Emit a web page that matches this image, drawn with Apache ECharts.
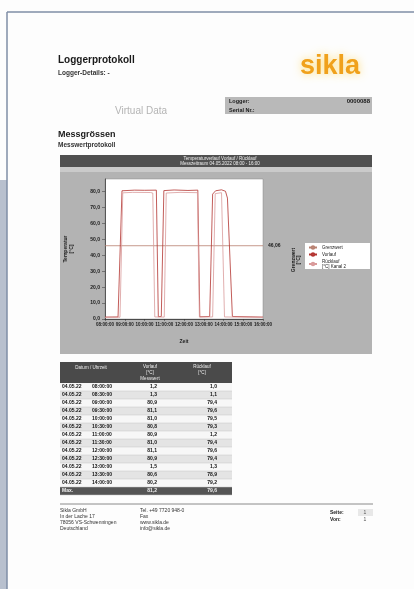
<!DOCTYPE html>
<html>
<head>
<meta charset="utf-8">
<script src="https://cdn.jsdelivr.net/npm/echarts@6/dist/echarts.min.js"></script>
<style>
html,body{margin:0;padding:0;background:#fdfdfd;}
#c{width:414px;height:589px;}
</style>
</head>
<body>
<div id="c"></div>
<script>
// ---- data ----
const seriesNames = ['Grenzwert', 'Vorlauf', 'Rücklauf\n[°C] Kanal 2'];
const grenzwert = [[0, 46.06], [8, 46.06]];
const vorlauf = [[0, 1.2], [0.66, 1.3], [0.86, 80.6], [1.5, 81.0], [2.0, 80.9], [2.6, 81.0], [2.7, 1.5], [2.85, 1.6], [2.98, 80.7], [3.5, 81.1], [4.2, 80.8], [4.7, 81.0], [4.8, 1.4], [5.3, 1.6], [5.45, 78.5], [5.6, 80.6], [5.9, 81.2], [6.1, 80.3], [6.2, 76.0], [6.45, 1.6], [8, 1.2]];
const ruecklauf = [[0, 1.0], [0.76, 1.1], [0.9, 79.3], [1.4, 79.6], [2.3, 79.5], [2.42, 79.2], [2.52, 1.3], [3.0, 1.2], [3.1, 79.2], [3.8, 79.6], [4.68, 79.4], [4.78, 1.2], [5.45, 1.3], [5.58, 78.8], [5.9, 79.4], [6.05, 1.3], [8, 1.0]];
const xTickLabels = ['08:00:00', '09:00:00', '10:00:00', '11:00:00', '12:00:00', '13:00:00', '14:00:00', '15:00:00', '16:00:00'];
const tableDates = ['04.05.22','04.05.22','04.05.22','04.05.22','04.05.22','04.05.22','04.05.22','04.05.22','04.05.22','04.05.22','04.05.22','04.05.22','04.05.22','Max.'];
const tableTimes = ['08:00:00','08:30:00','09:00:00','09:30:00','10:00:00','10:30:00','11:00:00','11:30:00','12:00:00','12:30:00','13:00:00','13:30:00','14:00:00',''];
const tableVorlauf = ['1,2','1,3','80,9','81,1','81,0','80,8','80,9','81,0','81,1','80,9','1,5','80,6','80,2','81,2'];
const tableRuecklauf = ['1,0','1,1','79,4','79,6','79,5','79,3','1,2','79,4','79,6','79,4','1,3','78,9','79,2','79,6'];

// ---- layout helpers (decoration only) ----
const F = '"Liberation Sans", Arial, sans-serif';
function txt(x, y, s, size, opt) {
  opt = opt || {};
  return {
    type: 'text', z: opt.z || 20, rotation: opt.rot || 0, x: x, y: y,
    style: {
      text: s, x: 0, y: 0,
      fill: opt.color || '#1a1a1a',
      font: (opt.bold ? 'bold ' : '') + size + 'px ' + F,
      textAlign: opt.align || 'left', textVerticalAlign: 'middle',
      textShadowColor: opt.shadow || 'transparent', textShadowBlur: opt.shadowBlur || 0
    }
  };
}
function rect(x, y, w, h, fill, z) {
  return { type: 'rect', z: z === undefined ? -10 : z, shape: { x: x, y: y, width: w, height: h }, style: { fill: fill } };
}
function line(x1, y1, x2, y2, stroke, w, z) {
  return { type: 'line', z: z === undefined ? -5 : z, shape: { x1: x1, y1: y1, x2: x2, y2: y2 }, style: { stroke: stroke, lineWidth: w } };
}

const g = [];
// page frame
g.push(rect(0, 180, 7, 409, '#b8c0ce'));
g.push(line(7, 12, 414, 12, '#7f8ea6', 1.5));
g.push(line(7, 12, 7, 589, '#7f8ea6', 1.5));
// header
g.push(txt(58, 60, 'Loggerprotokoll', 10, { bold: true }));
g.push(txt(58, 73, 'Logger-Details: -', 6.5, { bold: true, color: '#333' }));
g.push(txt(300, 67, 'sikla', 27, { bold: true, color: '#f0a11c', shadow: 'rgba(255,215,90,0.8)', shadowBlur: 8 }));
g.push(txt(115, 111, 'Virtual Data', 10, { color: '#b4b4b4' }));
g.push(rect(225, 97, 147, 17, '#b9b9b9'));
g.push(txt(229, 101, 'Logger:', 5.5, { bold: true }));
g.push(txt(229, 110, 'Serial Nr.:', 5.5, { bold: true }));
g.push(txt(370, 101, '0000088', 6, { bold: true, align: 'right' }));
g.push(txt(58, 135, 'Messgrössen', 9, { bold: true }));
g.push(txt(58, 145, 'Messwertprotokoll', 6.5, { bold: true, color: '#333' }));
// chart panel
g.push(rect(60, 155, 312, 12, '#505050'));
g.push(txt(220, 158.5, 'Temperaturverlauf Vorlauf / Rücklauf', 4.5, { color: '#eee', align: 'center' }));
g.push(txt(220, 164, 'Messzeitraum 04.05.2022 08:00 - 16:00', 4.5, { color: '#eee', align: 'center' }));
g.push(rect(60, 167, 312, 5, '#cacaca'));
g.push(rect(60, 172, 312, 182, '#b3b3b3'));
g.push(rect(305, 243, 65, 26, '#ffffff', -4));
g.push(txt(296, 260, 'Grenzwert\n[°C]', 5, { bold: true, rot: Math.PI / 2, align: 'center' }));
// table
const tx = 60, tw = 172, rowTop = 383, rowH = 8;
g.push(rect(tx, 362, tw, 21, '#4a4a4a'));
g.push(txt(91, 368, 'Datum / Uhrzeit', 4.5, { color: '#eee', align: 'center' }));
g.push(txt(150, 367, 'Vorlauf', 4.5, { color: '#eee', align: 'center' }));
g.push(txt(150, 373, '[°C]', 4.5, { color: '#eee', align: 'center' }));
g.push(txt(150, 379, 'Messwert', 4.5, { color: '#eee', align: 'center' }));
g.push(txt(202, 367, 'Rücklauf', 4.5, { color: '#eee', align: 'center' }));
g.push(txt(202, 373, '[°C]', 4.5, { color: '#eee', align: 'center' }));
tableDates.forEach(function (d, i) {
  const y = rowTop + i * rowH;
  const last = i === tableDates.length - 1;
  g.push(rect(tx, y, tw, rowH, last ? '#555555' : (i % 2 ? '#e4e4e4' : '#f7f7f7')));
  g.push(line(tx, y + rowH, tx + tw, y + rowH, '#c4c4c4', 0.5, -9));
  const col = last ? '#f0f0f0' : '#111';
  g.push(txt(62, y + 4, d, 5, { bold: true, color: col }));
  g.push(txt(92, y + 4, tableTimes[i], 5, { bold: true, color: col }));
  g.push(txt(157, y + 4, tableVorlauf[i], 5, { bold: true, color: col, align: 'right' }));
  g.push(txt(217, y + 4, tableRuecklauf[i], 5, { bold: true, color: col, align: 'right' }));
});
// footer
g.push(line(60, 504, 373, 504, '#8a8a8a', 1));
['Sikla GmbH', 'In der Lache 17', '78056 VS-Schwenningen', 'Deutschland'].forEach(function (s, i) {
  g.push(txt(60, 511 + i * 6, s, 5, { color: '#333' }));
});
['Tel. +49 7720 948-0', 'Fax', 'www.sikla.de', 'info@sikla.de'].forEach(function (s, i) {
  g.push(txt(140, 511 + i * 6, s, 5, { color: '#333' }));
});
g.push(txt(330, 513, 'Seite:', 5, { bold: true }));
g.push(txt(330, 520, 'Von:', 5, { bold: true }));
g.push(rect(358, 509, 15, 7, '#e8e8e8'));
g.push(txt(365, 513, '1', 5, { align: 'center', color: '#555' }));
g.push(txt(365, 520, '1', 5, { align: 'center', color: '#555' }));

const chart = echarts.init(document.getElementById('c'));
chart.setOption({
  backgroundColor: '#fdfdfd',
  animation: false,
  graphic: { elements: g },
  grid: { left: 105, top: 179, width: 158, height: 140, show: true, backgroundColor: '#ffffff', borderColor: '#8a8a8a', borderWidth: 0.5 },
  legend: {
    orient: 'vertical', left: 308, top: 245, itemWidth: 8, itemHeight: 3, itemGap: 2,
    padding: 0, data: seriesNames,
    textStyle: { fontSize: 4.5, color: '#222', fontFamily: F, lineHeight: 5 }
  },
  xAxis: {
    type: 'value', min: 0, max: 8, interval: 1,
    name: 'Zeit', nameLocation: 'middle', nameGap: 20,
    nameTextStyle: { fontSize: 5, fontWeight: 'bold', color: '#222', fontFamily: F },
    axisLine: { lineStyle: { color: '#333', width: 0.8 } },
    axisTick: { show: true, length: 2, lineStyle: { color: '#333', width: 0.5 } },
    axisLabel: { fontSize: 4.5, color: '#1a1a1a', fontWeight: 'bold', margin: 3, fontFamily: F,
      formatter: function (v) { return xTickLabels[Math.round(v)] || ''; } },
    splitLine: { show: false }
  },
  yAxis: {
    type: 'value', min: 0, max: 88, interval: 10,
    name: 'Temperatur\n[°C]', nameLocation: 'middle', nameGap: 30, nameRotate: 90,
    nameTextStyle: { fontSize: 5, fontWeight: 'bold', color: '#222', fontFamily: F, lineHeight: 6 },
    axisLine: { show: true, lineStyle: { color: '#333', width: 0.8 } },
    axisTick: { show: true, length: 3, lineStyle: { color: '#333', width: 0.5 } },
    axisLabel: { fontSize: 5, color: '#1a1a1a', fontWeight: 'bold', margin: 5, showMaxLabel: false, fontFamily: F,
      formatter: function (v) { return v.toFixed(1).replace('.', ','); } },
    splitLine: { show: false }
  },
  series: [
    { name: seriesNames[0], type: 'line', data: grenzwert, showSymbol: false, silent: true,
      lineStyle: { color: '#b88070', width: 0.8 }, itemStyle: { color: '#b88070' },
      endLabel: { show: true, formatter: '46,06', fontSize: 5, fontWeight: 'bold', color: '#1a1a1a', distance: 5, fontFamily: F } },
    { name: seriesNames[1], type: 'line', data: vorlauf, showSymbol: false,
      lineStyle: { color: '#b3322f', width: 0.8 }, itemStyle: { color: '#b3322f' } },
    { name: seriesNames[2], type: 'line', data: ruecklauf, showSymbol: false,
      lineStyle: { color: '#d99a9a', width: 0.8 }, itemStyle: { color: '#d99a9a' } }
  ]
});
</script>
</body>
</html>
